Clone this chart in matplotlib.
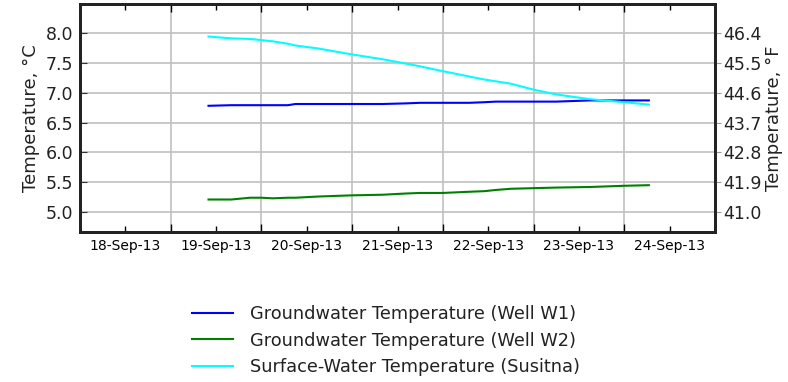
import matplotlib
matplotlib.use("Agg")
import matplotlib.pyplot as plt
import matplotlib.dates as mdates
import pandas as pd

times = ["2013-09-19 10:00", "2013-09-19 16:00", "2013-09-19 21:00", "2013-09-20 00:00",
         "2013-09-20 03:00", "2013-09-20 07:00", "2013-09-20 09:00", "2013-09-20 15:00",
         "2013-09-21 00:00", "2013-09-21 08:00", "2013-09-21 14:00", "2013-09-21 18:00",
         "2013-09-22 00:00", "2013-09-22 07:00", "2013-09-22 11:00", "2013-09-22 14:00",
         "2013-09-22 18:00", "2013-09-23 00:00", "2013-09-23 06:00", "2013-09-23 15:00",
         "2013-09-24 00:00", "2013-09-24 06:30"]
well_w1 = [6.78, 6.79, 6.79, 6.79, 6.79, 6.79, 6.81, 6.81, 6.81, 6.81, 6.82, 6.83,
           6.83, 6.83, 6.84, 6.85, 6.85, 6.85, 6.85, 6.87, 6.87, 6.87]
well_w2 = [5.21, 5.21, 5.24, 5.24, 5.23, 5.24, 5.24, 5.26, 5.28, 5.29, 5.31, 5.32,
           5.32, 5.34, 5.35, 5.37, 5.39, 5.40, 5.41, 5.42, 5.44, 5.45]
susitna = [7.94, 7.91, 7.90, 7.88, 7.86, 7.82, 7.79, 7.74, 7.64, 7.56, 7.49, 7.44,
           7.36, 7.27, 7.22, 7.19, 7.15, 7.05, 6.97, 6.89, 6.84, 6.80]
labels = ["Groundwater Temperature (Well W1)", "Groundwater Temperature (Well W2)",
          "Surface-Water Temperature (Susitna)"]
c_ticks = [5.0, 5.5, 6.0, 6.5, 7.0, 7.5, 8.0]

t = pd.to_datetime(times)

fig = plt.figure(figsize=(7.88, 3.82), dpi=100)
ax = fig.add_axes([0.1015, 0.3927, 0.8059, 0.5968])
ax.plot(t, well_w1, color="#0000ff", lw=1.5, label=labels[0])
ax.plot(t, well_w2, color="#008000", lw=1.5, label=labels[1])
ax.plot(t, susitna, color="#00ffff", lw=1.5, label=labels[2])

ax.set_xlim(pd.Timestamp("2013-09-18"), pd.Timestamp("2013-09-25"))
ylo, yhi = 4.666, 8.485
ax.set_ylim(ylo, yhi)
ax.set_yticks(c_ticks)
ax.yaxis.set_major_formatter(matplotlib.ticker.FormatStrFormatter("%.1f"))

ax.xaxis.set_major_locator(mdates.DayLocator())
ax.xaxis.set_major_formatter(matplotlib.ticker.NullFormatter())
ax.xaxis.set_minor_locator(mdates.HourLocator(byhour=[12]))
ax.xaxis.set_minor_formatter(mdates.DateFormatter("%d-%b-%y"))

ax.grid(True, which="major", color="#c0c0c0", lw=1.2, ls="-")
ax.set_axisbelow(True)
ax.tick_params(axis="x", which="both", direction="in", top=True, labelsize=10)
ax.tick_params(axis="x", which="major", length=6, width=1)
ax.tick_params(axis="x", which="minor", length=4, width=1, pad=5)
ax.tick_params(axis="y", which="both", direction="in", labelsize=12.5, length=5,
               right=False, pad=5, colors="#333333", labelcolor="#222222")
ax.set_ylabel("Temperature, °C", fontsize=13, color="#222222", labelpad=4)
for s in ax.spines.values():
    s.set_linewidth(2)
    s.set_color("#222222")

ax2 = ax.twinx()
ax2.set_ylim(ylo * 1.8 + 32, yhi * 1.8 + 32)
ax2.set_yticks([c * 1.8 + 32 for c in c_ticks])
ax2.yaxis.set_major_formatter(matplotlib.ticker.FormatStrFormatter("%.1f"))
ax2.tick_params(axis="y", direction="out", labelsize=12.5, length=4, pad=2,
                colors="#999999", labelcolor="#222222")
ax2.set_ylabel("Temperature, °F", fontsize=13, color="#222222", labelpad=2)
for s in ax2.spines.values():
    s.set_linewidth(2)
    s.set_color("#222222")

h, l = ax.get_legend_handles_labels()
leg = fig.legend(h, l, loc="upper left", bbox_to_anchor=(0.2236, 0.2434), frameon=False,
                 fontsize=12.8, handlelength=2.3, handletextpad=0.94, labelspacing=0.48)
for txt in leg.get_texts():
    txt.set_color("#222222")

fig.savefig("out.png", dpi=100)
